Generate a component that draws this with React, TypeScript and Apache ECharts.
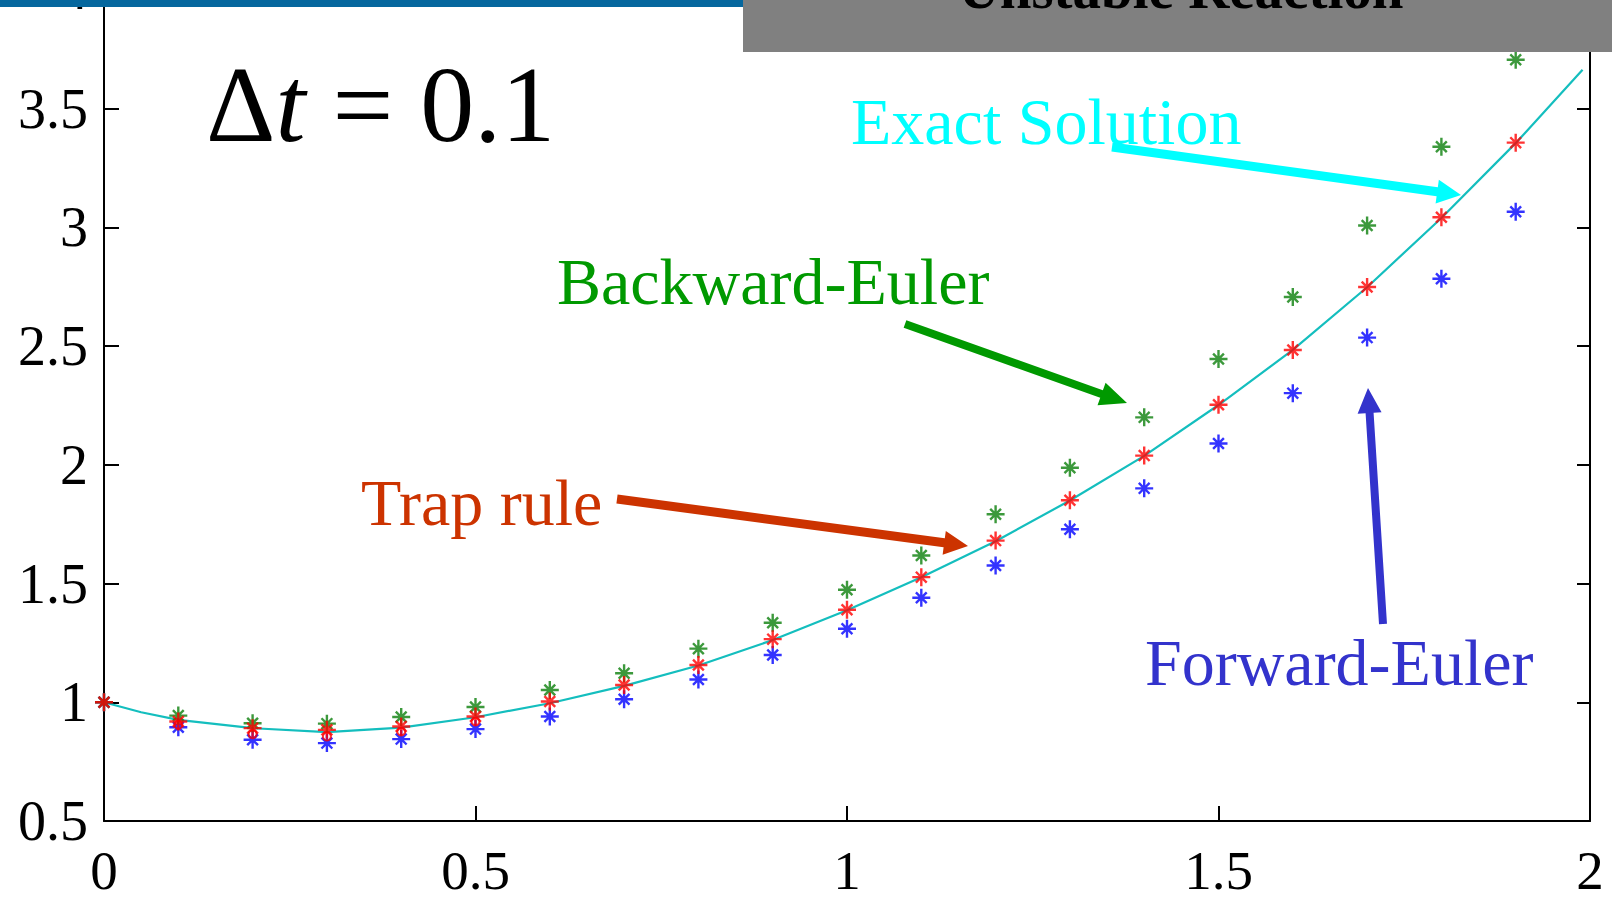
import React, { useEffect, useRef } from "react";
import * as echarts from "echarts";

// Time grid of the step-by-step methods (Δt = 0.1)
const tSteps = [0, 0.1, 0.2, 0.3, 0.4, 0.5, 0.6, 0.7, 0.8, 0.9, 1.0, 1.1, 1.2, 1.3, 1.4, 1.5, 1.6, 1.7, 1.8, 1.9];
const trapRule = [1.0, 0.919, 0.891, 0.884, 0.898, 0.94, 1.003, 1.073, 1.157, 1.266, 1.39, 1.527, 1.681, 1.851, 2.039, 2.253, 2.484, 2.749, 3.043, 3.357];
const backwardEuler = [1.0, 0.944, 0.912, 0.91, 0.938, 0.98, 1.052, 1.122, 1.226, 1.335, 1.474, 1.618, 1.792, 1.988, 2.2, 2.446, 2.707, 3.008, 3.34, 3.706];
const forwardEuler = [1.0, 0.895, 0.842, 0.828, 0.845, 0.887, 0.94, 1.013, 1.096, 1.199, 1.31, 1.44, 1.576, 1.729, 1.901, 2.09, 2.302, 2.536, 2.784, 3.066];
// Extra circle markers on the first trapezoidal steps
const circleT = [0.1, 0.2, 0.3, 0.4, 0.5];
const circleVals = [0.905, 0.866, 0.856, 0.877, 0.919];

// Exact solution, sampled finely
const exactT = [0, 0.05, 0.1, 0.2, 0.3, 0.4, 0.5, 0.6, 0.7, 0.8, 0.9, 1.0, 1.1, 1.2, 1.3, 1.4, 1.5, 1.6, 1.7, 1.8, 1.9, 1.99];
const exactVals = [1.0, 0.958, 0.926, 0.891, 0.874, 0.893, 0.937, 0.996, 1.069, 1.155, 1.262, 1.388, 1.527, 1.678, 1.85, 2.038, 2.252, 2.484, 2.748, 3.04, 3.355, 3.664];

const xTicks = { min: 0, max: 2, interval: 0.5 };
const yTicks = { min: 0.5, max: 4, interval: 0.5 };

const SERIF = '"Liberation Serif", "Times New Roman", serif';
const OY = 40; // chart canvas is shifted up by this many pixels
const STAR = "path://M0,-10L0,10M-10,0L10,0M-6,-6L6,6M-6,6L6,-6";

function pairs(xs: number[], ys: number[]) {
  return xs.map((x, i) => [x, ys[i]]);
}

function arrow(x1: number, y1: number, x2: number, y2: number, shaftW: number, headL: number, headW: number, color: string) {
  const dx = x2 - x1;
  const dy = y2 - y1;
  const len = Math.hypot(dx, dy);
  const ux = dx / len;
  const uy = dy / len;
  const nx = -uy;
  const ny = ux;
  const bx = x2 - ux * headL;
  const by = y2 - uy * headL;
  const pts = [
    [x1 + (nx * shaftW) / 2, y1 + (ny * shaftW) / 2],
    [bx + (nx * shaftW) / 2, by + (ny * shaftW) / 2],
    [bx + (nx * headW) / 2, by + (ny * headW) / 2],
    [x2, y2],
    [bx - (nx * headW) / 2, by - (ny * headW) / 2],
    [bx - (nx * shaftW) / 2, by - (ny * shaftW) / 2],
    [x1 - (nx * shaftW) / 2, y1 - (ny * shaftW) / 2],
  ].map(([x, y]) => [x, y + OY]);
  return { type: "polygon", z: 50, shape: { points: pts }, style: { fill: color } };
}

function label(text: string, x: number, baseline: number, size: number, color: string) {
  return {
    type: "text",
    z: 50,
    x,
    y: baseline - size * 0.32 + OY,
    style: { text, fill: color, font: `${size}px ${SERIF}`, align: "left", verticalAlign: "middle" },
  };
}

function starSeries(name: string, vals: number[], color: string) {
  return {
    name,
    type: "scatter",
    data: pairs(tSteps, vals),
    symbol: STAR,
    symbolSize: 18,
    itemStyle: { color: "none", borderColor: color, borderWidth: 2.4 },
    z: 3,
  };
}

export default function App() {
  const ref = useRef<HTMLDivElement>(null);

  useEffect(() => {
    if (!ref.current) return;
    const chart = echarts.init(ref.current, null, { renderer: "svg" });
    const axisLine = { show: true, lineStyle: { color: "#000", width: 2 } };
    chart.setOption({
      animation: false,
      backgroundColor: "#fff",
      grid: { left: 104, right: 22, top: OY - 10, bottom: 73, containLabel: false },
      xAxis: {
        type: "value",
        ...xTicks,
        axisLine: { ...axisLine, onZero: false },
        axisTick: { show: true, inside: true, length: 15, lineStyle: { color: "#000", width: 2 } },
        axisLabel: { color: "#000", fontFamily: SERIF, fontSize: 55, margin: 22 },
        splitLine: { show: false },
      },
      yAxis: [
        {
          type: "value",
          ...yTicks,
          axisLine: { ...axisLine, onZero: false },
          axisTick: { show: true, inside: true, length: 15, lineStyle: { color: "#000", width: 2 } },
          axisLabel: { color: "#000", fontFamily: SERIF, fontSize: 56, margin: 16 },
          splitLine: { show: false },
        },
        {
          type: "value",
          position: "right",
          ...yTicks,
          axisLine: { ...axisLine, onZero: false },
          axisTick: { show: true, inside: true, length: 13, lineStyle: { color: "#000", width: 2 } },
          axisLabel: { show: false },
          splitLine: { show: false },
        },
      ],
      series: [
        {
          name: "Exact Solution",
          type: "line",
          data: pairs(exactT, exactVals),
          showSymbol: false,
          symbol: "none",
          lineStyle: { color: "#14BEBE", width: 2.2 },
          z: 2,
        },
        starSeries("Forward-Euler", forwardEuler, "#0000FF"),
        starSeries("Backward-Euler", backwardEuler, "#0B800B"),
        starSeries("Trap rule", trapRule, "#FF0000"),
        {
          name: "Trap rule (o)",
          type: "scatter",
          data: pairs(circleT, circleVals),
          symbol: "circle",
          symbolSize: 8,
          itemStyle: { color: "none", borderColor: "#FF0000", borderWidth: 2 },
          z: 3,
        },
      ],
      graphic: [
        { type: "rect", z: 100, shape: { x: 0, y: OY, width: 1612, height: 7 }, style: { fill: "#05679E" } },
        { type: "rect", z: 101, shape: { x: 743, y: 0, width: 869, height: OY + 52 }, style: { fill: "#808080" } },
        {
          type: "text",
          z: 102,
          x: 1181,
          y: 7 - 57 * 0.32 + OY,
          style: { text: "Unstable Reaction", fill: "#000", font: `bold 57px ${SERIF}`, align: "center", verticalAlign: "middle" },
        },
        {
          type: "text",
          z: 50,
          x: 206,
          y: 139 - 108 * 0.32 + OY,
          style: {
            text: "{d|Δ}{i|t}{d| = 0.1}",
            align: "left",
            verticalAlign: "middle",
            rich: {
              d: { font: `108px ${SERIF}`, fill: "#000" },
              i: { font: `italic 108px ${SERIF}`, fill: "#000" },
            },
          },
        },
        label("Exact Solution", 851, 143, 66, "#00FFFF"),
        label("Backward-Euler", 557, 303, 66, "#009900"),
        label("Trap rule", 361, 524, 66, "#CC3300"),
        label("Forward-Euler", 1145, 684, 66, "#3333CC"),
        arrow(1112, 147, 1461, 195, 9, 24, 24, "#00FFFF"),
        arrow(905, 324, 1127, 403, 8, 27, 24, "#009900"),
        arrow(617, 499, 968, 546, 9, 24, 24, "#CC3300"),
        arrow(1383, 624, 1368, 388, 8, 25, 24, "#3333CC"),
      ],
    });
    return () => chart.dispose();
  }, []);

  return (
    <div style={{ position: "fixed", left: 0, top: 0, width: 1612, height: 898, overflow: "hidden", background: "#fff" }}>
      <div ref={ref} style={{ position: "absolute", left: 0, top: -OY, width: 1612, height: 898 + OY }} />
    </div>
  );
}
